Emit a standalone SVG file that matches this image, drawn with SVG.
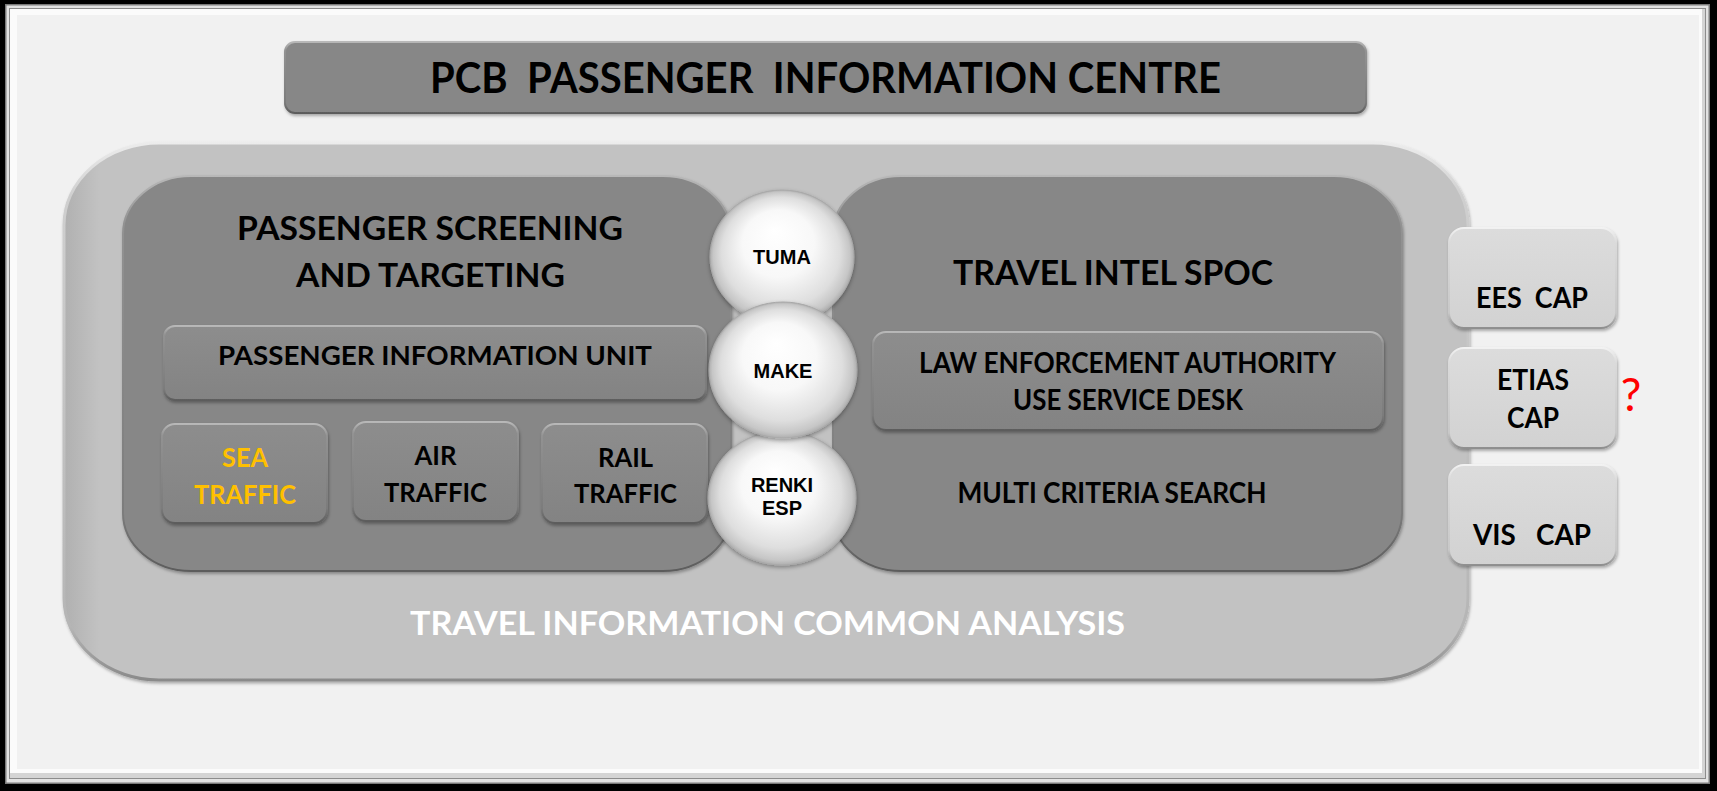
<svg xmlns="http://www.w3.org/2000/svg" width="1717" height="791" viewBox="0 0 1717 791">
<style>
.t{font-family:Lato,"Open Sans","Liberation Sans",sans-serif;font-weight:bold;fill:#000;text-anchor:middle;white-space:pre}
.w{fill:#ffffff}
.y{fill:#ffc000}
.c{font-family:"Liberation Sans",Arial,sans-serif;font-weight:bold;font-size:20px;fill:#000;text-anchor:middle}
.dk{fill:#878787;stroke:url(#bev);stroke-width:2}
.bx{fill:url(#boxG);stroke:url(#bev);stroke-width:2;filter:url(#sh)}
.lt{fill:url(#ltG);stroke:url(#bevL);stroke-width:2;filter:url(#sh)}
.ball{fill:url(#ballG);stroke:#a9a9a9;stroke-width:1;filter:url(#sh2)}
</style>
<defs>
<linearGradient id="bev" x1="0" y1="0" x2="0" y2="1">
<stop offset="0" stop-color="#b8b8b8"/><stop offset="0.12" stop-color="#929292"/><stop offset="0.85" stop-color="#7c7c7c"/><stop offset="1" stop-color="#5c5c5c"/>
</linearGradient>
<linearGradient id="bevL" x1="0" y1="0" x2="0" y2="1">
<stop offset="0" stop-color="#f2f2f2"/><stop offset="0.15" stop-color="#dadada"/><stop offset="0.85" stop-color="#c8c8c8"/><stop offset="1" stop-color="#8e8e8e"/>
</linearGradient>
<linearGradient id="boxG" x1="0" y1="0" x2="0" y2="1">
<stop offset="0" stop-color="#8d8d8d"/><stop offset="1" stop-color="#838383"/>
</linearGradient>
<linearGradient id="ltG" x1="0" y1="0" x2="0" y2="1">
<stop offset="0" stop-color="#dcdcdc"/><stop offset="1" stop-color="#d2d2d2"/>
</linearGradient>
<linearGradient id="contB" x1="0" y1="0" x2="0" y2="1">
<stop offset="0" stop-color="#ececec"/><stop offset="0.1" stop-color="#cfcfcf"/><stop offset="0.9" stop-color="#b5b5b5"/><stop offset="1" stop-color="#8a8a8a"/>
</linearGradient>
<linearGradient id="contF" x1="0" y1="0" x2="1" y2="0">
<stop offset="0" stop-color="#b0b0b0"/><stop offset="0.025" stop-color="#c2c2c2"/><stop offset="1" stop-color="#c2c2c2"/>
</linearGradient>
<radialGradient id="ballG" cx="0.5" cy="0.5" r="0.5" fx="0.45" fy="0.3">
<stop offset="0" stop-color="#ffffff"/><stop offset="0.5" stop-color="#f8f8f8"/><stop offset="0.82" stop-color="#dedede"/><stop offset="0.95" stop-color="#c6c6c6"/><stop offset="1" stop-color="#aeaeae"/>
</radialGradient>
<filter id="sh" x="-10%" y="-10%" width="120%" height="130%">
<feDropShadow dx="1" dy="2" stdDeviation="1.5" flood-color="#000" flood-opacity="0.3"/>
</filter>
<filter id="sh2" x="-20%" y="-20%" width="140%" height="140%">
<feDropShadow dx="0" dy="2" stdDeviation="2" flood-color="#000" flood-opacity="0.35"/>
</filter>
</defs>

<g id="frame">
<rect x="0" y="0" width="1717" height="791" fill="#000"/>
<rect x="5" y="4" width="1705" height="780" fill="#7a7a7a"/>
<rect x="6.5" y="5.5" width="1702" height="777" fill="#e2e2e2"/>
<rect x="9" y="8" width="1697" height="771" fill="#8c8c8c"/>
<rect x="10" y="9" width="1695" height="769" fill="#d4d4d4"/>
<rect x="10" y="9" width="1692" height="764" fill="#fbfbfb"/>
<rect x="17" y="15" width="1682" height="754" fill="#f1f1f1"/>
</g>

<g id="title">
<rect x="285" y="42" width="1081" height="71" rx="10" class="dk" filter="url(#sh)"/>
<text class="t" x="825.5" y="93" font-size="42" textLength="791" lengthAdjust="spacingAndGlyphs">PCB  PASSENGER  INFORMATION CENTRE</text>
</g>

<g id="tica">
<rect x="64" y="143" width="1404" height="537" rx="95" ry="82" fill="url(#contF)" stroke="url(#contB)" stroke-width="3" filter="url(#sh)"/>
<text class="t w" x="767.5" y="635" font-size="32" textLength="715" lengthAdjust="spacingAndGlyphs">TRAVEL INFORMATION COMMON ANALYSIS</text>
</g>

<g id="pst">
<rect x="123" y="176" width="608" height="395" rx="68" ry="58" class="dk" filter="url(#sh)"/>
<text class="t" x="430" y="240" font-size="32" textLength="386" lengthAdjust="spacingAndGlyphs">PASSENGER SCREENING</text>
<text class="t" x="430.5" y="287" font-size="32" textLength="269" lengthAdjust="spacingAndGlyphs">AND TARGETING</text>
</g>

<g id="piu">
<rect x="164" y="326" width="542" height="74" rx="11" class="bx"/>
<text class="t" x="435" y="365" font-size="26.5" textLength="434" lengthAdjust="spacingAndGlyphs">PASSENGER INFORMATION UNIT</text>
</g>

<g id="sea">
<rect x="162" y="424" width="165" height="99" rx="13" class="bx"/>
<text class="t y" x="245" y="467" font-size="26.5" textLength="46" lengthAdjust="spacingAndGlyphs">SEA</text>
<text class="t y" x="245" y="504" font-size="26.5" textLength="102" lengthAdjust="spacingAndGlyphs">TRAFFIC</text>
</g>

<g id="air">
<rect x="353" y="422" width="165" height="99" rx="13" class="bx"/>
<text class="t" x="435.5" y="465" font-size="26.5" textLength="42" lengthAdjust="spacingAndGlyphs">AIR</text>
<text class="t" x="435.5" y="502" font-size="26.5" textLength="103" lengthAdjust="spacingAndGlyphs">TRAFFIC</text>
</g>

<g id="rail">
<rect x="542" y="424" width="165" height="99" rx="13" class="bx"/>
<text class="t" x="625.5" y="467" font-size="26.5" textLength="55" lengthAdjust="spacingAndGlyphs">RAIL</text>
<text class="t" x="625.5" y="503" font-size="26.5" textLength="103" lengthAdjust="spacingAndGlyphs">TRAFFIC</text>
</g>

<g id="spoc">
<rect x="833" y="176" width="569" height="395" rx="68" ry="58" class="dk" filter="url(#sh)"/>
<text class="t" x="1113" y="285" font-size="33.5" textLength="320" lengthAdjust="spacingAndGlyphs">TRAVEL INTEL SPOC</text>
<text class="t" x="1112" y="503" font-size="28" textLength="309" lengthAdjust="spacingAndGlyphs">MULTI CRITERIA SEARCH</text>
</g>

<g id="lea">
<rect x="873" y="332" width="510" height="98" rx="13" class="bx"/>
<text class="t" x="1127.5" y="373" font-size="28" textLength="417" lengthAdjust="spacingAndGlyphs">LAW ENFORCEMENT AUTHORITY</text>
<text class="t" x="1128" y="410" font-size="28" textLength="230" lengthAdjust="spacingAndGlyphs">USE SERVICE DESK</text>
</g>

<g id="tuma">
<ellipse cx="782" cy="257" rx="72" ry="67" class="ball"/>
<text class="c" x="782" y="264">TUMA</text>
</g>
<g id="renki">
<ellipse cx="782" cy="498" rx="74" ry="67" class="ball"/>
<text class="c" x="782" y="492">RENKI</text>
<text class="c" x="782" y="515">ESP</text>
</g>
<g id="make">
<ellipse cx="783" cy="370" rx="74" ry="68" class="ball"/>
<text class="c" x="783" y="378">MAKE</text>
</g>

<g id="ees">
<rect x="1449" y="228" width="167" height="100" rx="15" class="lt"/>
<text class="t" x="1532" y="308" font-size="28" textLength="112" lengthAdjust="spacingAndGlyphs">EES  CAP</text>
</g>
<g id="etias">
<rect x="1449" y="348" width="167" height="100" rx="15" class="lt"/>
<text class="t" x="1533" y="390" font-size="28" textLength="72" lengthAdjust="spacingAndGlyphs">ETIAS</text>
<text class="t" x="1533" y="428" font-size="28" textLength="52" lengthAdjust="spacingAndGlyphs">CAP</text>
</g>
<g id="vis">
<rect x="1449" y="465" width="167" height="100" rx="15" class="lt"/>
<text class="t" x="1532" y="545" font-size="28" textLength="118" lengthAdjust="spacingAndGlyphs">VIS   CAP</text>
</g>

<g id="qmark">
<text x="1631" y="411" font-family="Lato,'Open Sans',sans-serif" font-weight="normal" font-size="46" fill="#ff0000" text-anchor="middle">?</text>
</g>

<g id="connectors"></g>
</svg>
